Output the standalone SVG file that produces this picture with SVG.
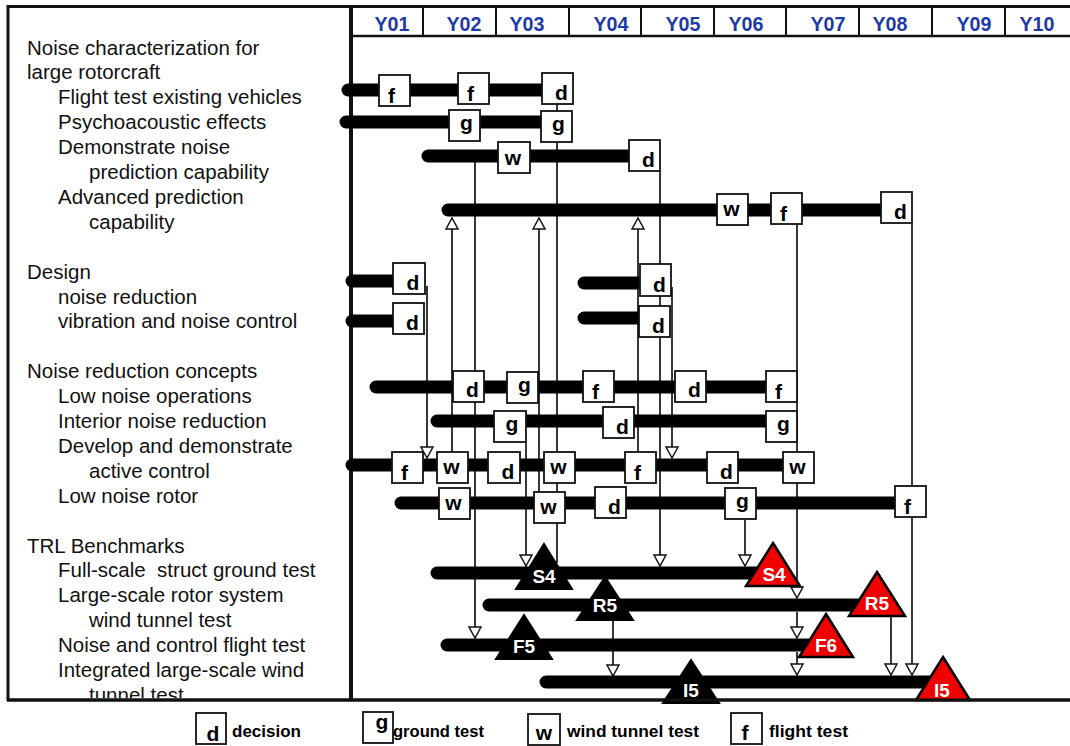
<svg xmlns="http://www.w3.org/2000/svg" width="1070" height="746" viewBox="0 0 1070 746">
<style>
.frame{stroke:#111;fill:none}
.yr{font-family:"Liberation Sans",Arial,sans-serif;font-weight:bold;font-size:20px;fill:#1e3aa8;text-anchor:middle}
.lbl{font-family:"Liberation Sans",Arial,sans-serif;font-size:20.5px;fill:#111}
.bar{stroke:#000;stroke-width:13;stroke-linecap:round;fill:none}
.box{fill:#fff;stroke:#111;stroke-width:1.8}
.bl{font-family:"Liberation Sans",Arial,sans-serif;font-weight:bold;font-size:21px;fill:#000;text-anchor:middle}
.con{stroke:#222;stroke-width:1.8;fill:none}
.tb{fill:#000;stroke:#000;stroke-width:2;stroke-linejoin:miter}
.tr{fill:#f00000;stroke:#000;stroke-width:2.5;stroke-linejoin:miter}
.tt{font-family:"Liberation Sans",Arial,sans-serif;font-weight:bold;font-size:19px;fill:#fff;text-anchor:middle}
.lg{font-family:"Liberation Sans",Arial,sans-serif;font-weight:bold;font-size:17px;fill:#000}
</style>
<defs>
<marker id="ah" viewBox="-1 -1 14 14" refX="11" refY="6" markerWidth="14" markerHeight="14" markerUnits="userSpaceOnUse" orient="auto">
<path d="M0,0 L11,6 L0,12 Z" fill="#fff" stroke="#111" stroke-width="1.5"/>
</marker>
<clipPath id="clipTop"><rect x="0" y="0" width="1070" height="698"/></clipPath>
</defs>
<rect x="0" y="0" width="1070" height="746" fill="#fff"/>

<g id="frame" class="frame">
<line x1="7" y1="6.5" x2="1070" y2="6.5" stroke-width="3"/>
<line x1="8" y1="5" x2="8" y2="701" stroke-width="3"/>
<line x1="351" y1="5" x2="351" y2="701" stroke-width="4"/>
<line x1="350" y1="36" x2="1070" y2="36" stroke-width="2.5"/>
<line x1="7" y1="700" x2="1070" y2="700" stroke-width="3"/>
<g stroke-width="2">
<line x1="423" y1="6" x2="423" y2="36"/><line x1="496" y1="6" x2="496" y2="36"/>
<line x1="569" y1="6" x2="569" y2="36"/><line x1="641" y1="6" x2="641" y2="36"/>
<line x1="714" y1="6" x2="714" y2="36"/><line x1="786" y1="6" x2="786" y2="36"/>
<line x1="859" y1="6" x2="859" y2="36"/><line x1="932" y1="6" x2="932" y2="36"/>
<line x1="1005" y1="6" x2="1005" y2="36"/>
</g>
</g>

<g id="years">
<text class="yr" x="392" y="31" textLength="35" lengthAdjust="spacingAndGlyphs">Y01</text>
<text class="yr" x="464" y="31" textLength="35" lengthAdjust="spacingAndGlyphs">Y02</text>
<text class="yr" x="527" y="31" textLength="35" lengthAdjust="spacingAndGlyphs">Y03</text>
<text class="yr" x="611" y="31" textLength="35" lengthAdjust="spacingAndGlyphs">Y04</text>
<text class="yr" x="683" y="31" textLength="35" lengthAdjust="spacingAndGlyphs">Y05</text>
<text class="yr" x="746" y="31" textLength="35" lengthAdjust="spacingAndGlyphs">Y06</text>
<text class="yr" x="828" y="31" textLength="35" lengthAdjust="spacingAndGlyphs">Y07</text>
<text class="yr" x="890" y="31" textLength="35" lengthAdjust="spacingAndGlyphs">Y08</text>
<text class="yr" x="974" y="31" textLength="35" lengthAdjust="spacingAndGlyphs">Y09</text>
<text class="yr" x="1037" y="31" textLength="35" lengthAdjust="spacingAndGlyphs">Y10</text>
</g>

<g id="labels" clip-path="url(#clipTop)">
<text class="lbl" x="27" y="54.5">Noise characterization for</text>
<text class="lbl" x="27" y="79.4">large rotorcraft</text>
<text class="lbl" x="58" y="104.3">Flight test existing vehicles</text>
<text class="lbl" x="58" y="129.2">Psychoacoustic effects</text>
<text class="lbl" x="58" y="154.1">Demonstrate noise</text>
<text class="lbl" x="89" y="179">prediction capability</text>
<text class="lbl" x="58" y="203.9">Advanced prediction</text>
<text class="lbl" x="89" y="228.8">capability</text>
<text class="lbl" x="27" y="278.6">Design</text>
<text class="lbl" x="58" y="303.5">noise reduction</text>
<text class="lbl" x="58" y="328.4">vibration and noise control</text>
<text class="lbl" x="27" y="378.2">Noise reduction concepts</text>
<text class="lbl" x="58" y="403.1">Low noise operations</text>
<text class="lbl" x="58" y="428">Interior noise reduction</text>
<text class="lbl" x="58" y="452.9">Develop and demonstrate</text>
<text class="lbl" x="89" y="477.8">active control</text>
<text class="lbl" x="58" y="502.7">Low noise rotor</text>
<text class="lbl" x="27" y="552.5">TRL Benchmarks</text>
<text class="lbl" x="58" y="577.4" xml:space="preserve">Full-scale  struct ground test</text>
<text class="lbl" x="58" y="602.3">Large-scale rotor system</text>
<text class="lbl" x="89" y="627.2">wind tunnel test</text>
<text class="lbl" x="58" y="652.1">Noise and control flight test</text>
<text class="lbl" x="58" y="677">Integrated large-scale wind</text>
<text class="lbl" x="89" y="701.9">tunnel test</text>
</g>

<g id="connectors" class="con">
<line x1="557" y1="104" x2="557" y2="563"/>
<g marker-end="url(#ah)">
<line x1="475" y1="162" x2="475" y2="638"/>
<line x1="660" y1="171" x2="660" y2="566"/>
<line x1="452" y1="452" x2="452" y2="218"/>
<line x1="539" y1="492" x2="539" y2="218"/>
<line x1="638" y1="452" x2="638" y2="218"/>
<line x1="797" y1="225" x2="797" y2="598"/>
<line x1="797" y1="612" x2="797" y2="638"/>
<line x1="797" y1="652" x2="797" y2="675"/>
<line x1="912" y1="224" x2="912" y2="675"/>
<line x1="891" y1="616" x2="891" y2="675"/>
<line x1="613" y1="620" x2="613" y2="676"/>
<line x1="745" y1="520" x2="745" y2="566"/>
<line x1="526" y1="442" x2="526" y2="566"/>
<line x1="427" y1="286" x2="427" y2="458"/>
<line x1="672" y1="287" x2="672" y2="458"/>
</g>
</g>

<g id="row-flight-test">
<line class="bar" x1="348" y1="90" x2="556" y2="90"/>
<rect class="box" x="379" y="75" width="31" height="31"/><text class="bl" x="391.5" y="103">f</text>
<rect class="box" x="458" y="73" width="31" height="31"/><text class="bl" x="470.5" y="101">f</text>
<rect class="box" x="542" y="73" width="31" height="31"/><text class="bl" x="561.5" y="100">d</text>
</g>
<g id="row-psychoacoustic">
<line class="bar" x1="346" y1="122" x2="555" y2="122"/>
<rect class="box" x="449" y="110" width="31" height="31"/><text class="bl" x="466.5" y="130">g</text>
<rect class="box" x="541" y="111" width="31" height="31"/><text class="bl" x="558.5" y="131">g</text>
</g>
<g id="row-demonstrate">
<line class="bar" x1="428" y1="156" x2="640" y2="156"/>
<rect class="box" x="498" y="142" width="32" height="31"/><text class="bl" x="513" y="165">w</text>
<rect class="box" x="629" y="140" width="31" height="31"/><text class="bl" x="648.5" y="167">d</text>
</g>
<g id="row-advanced">
<line class="bar" x1="448" y1="210" x2="893" y2="210"/>
<rect class="box" x="717" y="194" width="31" height="31"/><text class="bl" x="731.5" y="216">w</text>
<rect class="box" x="771" y="193" width="31" height="31"/><text class="bl" x="783.5" y="221">f</text>
<rect class="box" x="881" y="192" width="31" height="31"/><text class="bl" x="900.5" y="219">d</text>
</g>
<g id="row-design-noise">
<line class="bar" x1="352" y1="281" x2="405" y2="281"/>
<rect class="box" x="393" y="263" width="32" height="31"/><text class="bl" x="413" y="290">d</text>
<line class="bar" x1="584" y1="283" x2="650" y2="283"/>
<rect class="box" x="640" y="264" width="31" height="32"/><text class="bl" x="659.5" y="292">d</text>
</g>
<g id="row-design-vibration">
<line class="bar" x1="352" y1="321" x2="405" y2="321"/>
<rect class="box" x="393" y="303" width="31" height="31"/><text class="bl" x="412.5" y="330">d</text>
<line class="bar" x1="584" y1="318" x2="650" y2="318"/>
<rect class="box" x="639" y="306" width="31" height="31"/><text class="bl" x="658.5" y="333">d</text>
</g>
<g id="row-low-noise-ops">
<line class="bar" x1="376" y1="387" x2="770" y2="387"/>
<rect class="box" x="453" y="371" width="31" height="31"/><text class="bl" x="472.5" y="397">d</text>
<rect class="box" x="507" y="372" width="31" height="31"/><text class="bl" x="524.5" y="392">g</text>
<rect class="box" x="583" y="371" width="31" height="31"/><text class="bl" x="595.5" y="399">f</text>
<rect class="box" x="675" y="371" width="31" height="31"/><text class="bl" x="694.5" y="397">d</text>
<rect class="box" x="766" y="371" width="31" height="31"/><text class="bl" x="778.5" y="399">f</text>
</g>
<g id="row-interior">
<line class="bar" x1="437" y1="421" x2="770" y2="421"/>
<rect class="box" x="494" y="411" width="32" height="31"/><text class="bl" x="512" y="431">g</text>
<rect class="box" x="603" y="407" width="31" height="31"/><text class="bl" x="622.5" y="434">d</text>
<rect class="box" x="766" y="411" width="31" height="31"/><text class="bl" x="783.5" y="431">g</text>
</g>
<g id="row-develop">
<line class="bar" x1="352" y1="465" x2="788" y2="465"/>
<rect class="box" x="392" y="452" width="31" height="31"/><text class="bl" x="404.5" y="480">f</text>
<rect class="box" x="437" y="452" width="31" height="31"/><text class="bl" x="451.5" y="474">w</text>
<rect class="box" x="488" y="452" width="32" height="31"/><text class="bl" x="508" y="479">d</text>
<rect class="box" x="544" y="452" width="31" height="31"/><text class="bl" x="558.5" y="474">w</text>
<rect class="box" x="625" y="452" width="31" height="31"/><text class="bl" x="637.5" y="480">f</text>
<rect class="box" x="707" y="452" width="31" height="31"/><text class="bl" x="726.5" y="479">d</text>
<rect class="box" x="783" y="452" width="31" height="31"/><text class="bl" x="797.5" y="474">w</text>
</g>
<g id="row-low-noise-rotor">
<line class="bar" x1="401" y1="503" x2="900" y2="503"/>
<rect class="box" x="439" y="488" width="31" height="31"/><text class="bl" x="453.5" y="510">w</text>
<rect class="box" x="534" y="492" width="31" height="31"/><text class="bl" x="548.5" y="514">w</text>
<rect class="box" x="595" y="487" width="31" height="31"/><text class="bl" x="614.5" y="514">d</text>
<rect class="box" x="725" y="488" width="31" height="31"/><text class="bl" x="742.5" y="508">g</text>
<rect class="box" x="895" y="486" width="31" height="31"/><text class="bl" x="907.5" y="514">f</text>
</g>

<g id="trl-bars">
<line class="bar" x1="437" y1="573" x2="770" y2="573"/>
<line class="bar" x1="489" y1="605" x2="875" y2="605"/>
<line class="bar" x1="447" y1="645" x2="822" y2="645"/>
<line class="bar" x1="546" y1="682" x2="940" y2="682"/>
</g>
<g id="m-S4-black"><polygon class="tb" points="544,544 572,589 516,589"/><text class="tt" x="544" y="583">S4</text></g>
<g id="m-S4-red"><polygon class="tr" points="773,543 800,586 746,586"/><text class="tt" x="774" y="581">S4</text></g>
<g id="m-R5-black"><polygon class="tb" points="605,577 633,620 577,620"/><text class="tt" x="605" y="612">R5</text></g>
<g id="m-R5-red"><polygon class="tr" points="877,572 905,616 849,616"/><text class="tt" x="877" y="610">R5</text></g>
<g id="m-F5-black"><polygon class="tb" points="524,615 552,659 496,659"/><text class="tt" x="524" y="653">F5</text></g>
<g id="m-F6-red"><polygon class="tr" points="826,614 853,657 799,657"/><text class="tt" x="826" y="652">F6</text></g>
<g id="m-I5-black"><polygon class="tb" points="691,660 719,703 663,703"/><text class="tt" x="691" y="697">I5</text></g>
<g id="m-I5-red"><polygon class="tr" points="943,657 970,700 916,700"/><text class="tt" x="942" y="697">I5</text></g>
<line x1="7" y1="700" x2="1070" y2="700" stroke="#111" stroke-width="3"/>

<g id="legend">
<rect class="box" x="196" y="713" width="30" height="31"/><text class="bl" x="213" y="741">d</text>
<text class="lg" x="232" y="737" textLength="69" lengthAdjust="spacingAndGlyphs">decision</text>
<rect class="box" x="363" y="712" width="30" height="31"/><text class="bl" x="382" y="729">g</text>
<text class="lg" x="393" y="737" textLength="91" lengthAdjust="spacingAndGlyphs">ground test</text>
<rect class="box" x="528" y="714" width="32" height="31"/><text class="bl" x="544" y="740">w</text>
<text class="lg" x="567" y="737" textLength="132" lengthAdjust="spacingAndGlyphs">wind tunnel test</text>
<rect class="box" x="731" y="713" width="31" height="31"/><text class="bl" x="745" y="740">f</text>
<text class="lg" x="769" y="737" textLength="79" lengthAdjust="spacingAndGlyphs">flight test</text>
</g>
</svg>
